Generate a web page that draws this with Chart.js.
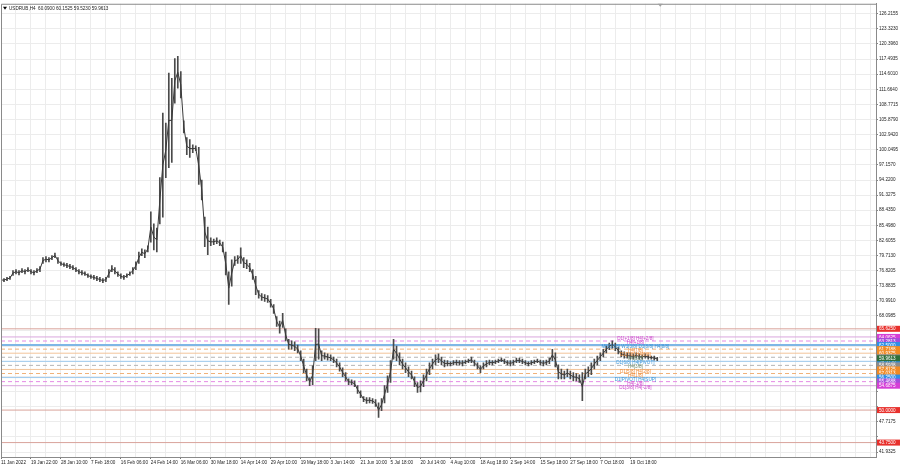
<!DOCTYPE html>
<html>
<head>
<meta charset="utf-8">
<script src="https://cdn.jsdelivr.net/npm/chart.js@4.4.0/dist/chart.umd.min.js"></script>
<style>
    html, body { margin: 0; padding: 0; background: #fff; overflow: hidden; }
    canvas { display: block; }
</style>
</head>
<body>
<canvas id="priceChart" width="900" height="468"></canvas>
<script>
// USDRUB H4 - each entry is one compressed bar (high / low)
const chartTitle = 'USDRUB,H4  60.0900 60.1525 59.5230 59.9613';

const timeLabels = ['11 Jan 2022', '19 Jan 22:00', '28 Jan 10:00', '7 Feb 18:00', '16 Feb 06:00', '24 Feb 14:00',
    '16 Mar 06:00', '30 Mar 18:00', '14 Apr 14:00', '29 Apr 10:00', '19 May 18:00', '3 Jun 14:00', '21 Jun 10:00',
    '5 Jul 18:00', '20 Jul 14:00', '4 Aug 10:00', '18 Aug 18:00', '2 Sep 14:00', '15 Sep 18:00', '27 Sep 18:00',
    '7 Oct 18:00', '19 Oct 18:00'];

const barHigh = [
    75.3, 75.3, 75.5, 75.7, 76.8, 77.0, 76.8, 77.2, 77.0, 77.4,
    77.0, 76.8, 77.2, 77.6, 79.3, 79.5, 79.3, 79.7, 80.2, 79.3,
    78.5, 78.3, 78.2, 78.0, 77.8, 77.4, 77.0, 76.8, 76.6, 76.2,
    76.0, 75.9, 75.7, 75.5, 75.3, 75.5, 77.0, 77.8, 77.4, 76.6,
    76.2, 75.9, 76.2, 76.6, 77.4, 78.5, 80.4, 81.0, 80.8, 81.6,
    88.1, 85.8, 85.0, 94.7, 107.1, 105.2, 114.8, 113.8, 117.6, 118.0,
    115.1, 105.6, 102.4, 102.0, 101.0, 100.8, 100.5, 94.2, 87.1, 85.2,
    83.1, 82.9, 83.1, 82.7, 82.3, 80.4, 76.6, 78.9, 79.5, 79.7,
    81.2, 79.3, 78.9, 78.2, 77.0, 75.7, 73.0, 72.4, 72.2, 72.0,
    71.3, 70.3, 68.0, 67.1, 68.6, 65.6, 63.6, 63.3, 63.1, 62.5,
    61.4, 59.8, 57.9, 56.2, 58.5, 65.7, 65.6, 61.4, 61.0, 60.8,
    60.6, 60.2, 59.8, 59.1, 58.1, 57.2, 56.0, 55.8, 55.6, 54.7,
    53.7, 52.6, 52.4, 52.4, 52.2, 52.0, 51.4, 52.2, 54.7, 56.6,
    59.5, 63.6, 62.3, 61.0, 59.8, 59.1, 58.3, 57.5, 56.4, 55.3,
    55.6, 56.8, 57.9, 59.1, 59.8, 60.6, 60.8, 60.2, 59.6, 59.5,
    59.3, 59.5, 59.6, 59.5, 59.5, 59.6, 59.8, 60.2, 59.6, 59.1,
    58.5, 59.1, 59.5, 59.6, 59.5, 59.6, 59.8, 60.0, 59.8, 59.5,
    59.5, 59.6, 60.0, 60.0, 59.8, 59.5, 59.3, 59.5, 59.6, 59.8,
    59.6, 59.5, 59.6, 60.0, 61.7, 61.0, 58.7, 57.9, 57.5, 57.9,
    57.5, 57.2, 57.0, 56.8, 57.2, 57.9, 58.3, 59.1, 59.8, 60.4,
    61.0, 61.7, 62.3, 62.9, 63.3, 62.9, 62.1, 61.4, 61.2, 61.0,
    61.0, 60.8, 61.0, 60.8, 60.6, 60.8, 60.6, 60.4, 60.4, 60.15
];

const barLow = [
    74.7, 74.7, 74.9, 75.1, 75.9, 76.2, 76.0, 76.4, 76.2, 76.6,
    76.2, 76.0, 76.4, 76.6, 78.2, 78.5, 78.5, 78.9, 79.3, 78.2,
    77.8, 77.6, 77.4, 77.2, 77.0, 76.6, 76.2, 76.0, 75.9, 75.5,
    75.3, 75.1, 74.9, 74.7, 74.5, 74.7, 75.5, 76.6, 76.2, 75.7,
    75.3, 75.1, 75.5, 75.9, 76.2, 77.0, 78.2, 79.7, 79.3, 80.4,
    82.3, 80.8, 80.4, 85.8, 87.1, 94.7, 96.6, 97.6, 109.0, 111.9,
    110.0, 103.3, 99.1, 98.6, 99.5, 99.9, 93.4, 90.4, 81.4, 79.9,
    81.6, 81.8, 82.0, 81.6, 80.4, 76.0, 70.3, 73.8, 77.8, 78.2,
    78.2, 77.4, 77.2, 76.6, 75.1, 72.2, 71.5, 71.1, 70.9, 70.7,
    69.8, 68.6, 66.1, 64.8, 65.9, 63.3, 61.7, 61.7, 61.4, 61.0,
    59.5, 57.2, 55.6, 54.7, 54.9, 59.5, 59.8, 59.5, 59.8, 59.6,
    59.5, 59.1, 58.3, 57.5, 56.4, 55.6, 54.9, 54.9, 54.5, 53.2,
    52.4, 51.6, 51.3, 51.4, 51.3, 50.7, 48.6, 49.9, 51.4, 53.4,
    55.3, 59.8, 59.5, 58.7, 57.9, 57.2, 56.4, 56.0, 54.5, 53.4,
    53.5, 54.5, 55.6, 56.8, 57.9, 58.7, 59.1, 58.7, 58.3, 58.5,
    58.5, 58.7, 58.7, 58.7, 58.5, 58.9, 59.1, 59.1, 58.5, 57.9,
    57.2, 57.9, 58.3, 58.7, 58.7, 58.9, 59.1, 59.3, 58.9, 58.7,
    58.5, 58.7, 59.1, 59.1, 58.9, 58.7, 58.5, 58.7, 58.9, 59.1,
    58.7, 58.5, 58.7, 58.9, 59.5, 58.3, 56.0, 56.0, 56.0, 56.4,
    56.0, 55.6, 55.6, 55.3, 51.8, 56.0, 56.4, 56.8, 57.9, 58.7,
    59.5, 60.2, 61.0, 61.6, 61.9, 61.4, 60.8, 60.2, 60.0, 60.0,
    59.8, 59.8, 60.0, 59.8, 59.8, 60.0, 59.8, 59.8, 59.6, 59.52
];

const priceTicks = [126.2155, 123.3230, 120.3960, 117.4935, 114.6010, 111.6640, 108.7715, 105.8790, 102.9420,
    100.0495, 97.1570, 94.2200, 91.3275, 88.4350, 85.4980, 82.6055, 79.7130, 76.8205, 73.8835, 70.9910,
    68.0985, 65.2060, 62.2690, 59.3765, 56.4840, 53.5470, 50.6545, 47.7175, 44.8250, 41.9325];

// Murrey math levels and the text written next to them
const octaveLevels = [65.625, 50.0, 43.75];
const mmLevels = [64.0625, 63.28125, 62.5, 61.71875, 60.9375, 60.15625, 59.375, 58.59375, 57.8125, 57.03125, 56.25, 55.46875, 54.6875];
const mmTexts = ['D1[+1/8] H4[+2/8]', 'H4[+1/8]', 'MN1[6/8] W1[3/8] D1[8/8] H4[8/8]', 'H4[7/8]', 'D1[7/8] H4[6/8]',
    'H4[5/8]', 'D1[6/8] H4[PIVOT]', 'H4[3/8]', 'D1[5/8] H4[2/8]', 'H4[1/8]', 'D1[PIVOT] H4[SUP]', 'H4[-1/8]', 'D1[3/8] H4[-2/8]'];
const lastClose = 59.9613;

// styles per murrey level (same order as mmLevels)
const mmStyle = [
    { line: '#d9a6dd', dash: [], tag: '#d63fd6', text: '#cc44cc' },
    { line: '#e58ae5', dash: [4, 3], tag: '#a64ddb', text: '#cc44cc' },
    { line: '#7fb7e6', dash: [], tag: '#2f8fe6', text: '#3a95d8', width: 2 },
    { line: '#f0b27a', dash: [4, 3], tag: '#f08a24', text: '#ee8833' },
    { line: '#f2c49a', dash: [], tag: '#f08a24', text: '#ee8833' },
    { line: '#b5b5b5', dash: [4, 3], tag: '#8c8c8c', text: '#6f8f6f' },
    { line: '#9cc9ee', dash: [], tag: '#2f8fe6', text: '#3a95d8' },
    { line: '#b5b5b5', dash: [4, 3], tag: '#8c8c8c', text: '#6f8f6f' },
    { line: '#f2c49a', dash: [], tag: '#f08a24', text: '#ee8833' },
    { line: '#f0b27a', dash: [4, 3], tag: '#f08a24', text: '#ee8833' },
    { line: '#9cc9ee', dash: [], tag: '#2f8fe6', text: '#3a95d8' },
    { line: '#e58ae5', dash: [4, 3], tag: '#a64ddb', text: '#cc44cc' },
    { line: '#d9a6dd', dash: [], tag: '#d63fd6', text: '#cc44cc' }
];

const FONT = 'Liberation Sans, Arial, sans-serif';
const X_MAX = 292;
const TEXT_ANCHOR = 211.7;

function levelLine(value, color, width, dash) {
    return {
        type: 'line',
        data: [{ x: 0, y: value }, { x: X_MAX, y: value }],
        borderColor: color,
        borderWidth: width || 1,
        borderDash: dash || [],
        pointRadius: 0,
        fill: false,
        order: 5
    };
}

function buildDatasets() {
    const sets = [];
    octaveLevels.forEach(v => sets.push(levelLine(v, '#d9a39b', 1)));
    mmLevels.forEach((v, i) => sets.push(levelLine(v, mmStyle[i].line, mmStyle[i].width, mmStyle[i].dash)));
    // high-low ticks
    sets.push({
        type: 'bar',
        data: barHigh.map((h, i) => ({ x: i, y: [barLow[i], h] })),
        backgroundColor: '#4a4a4a',
        borderWidth: 0,
        barThickness: 1,
        order: 2
    });
    // thin line through the middle of each bar so the series reads as one path
    sets.push({
        type: 'line',
        data: barHigh.map((h, i) => ({ x: i, y: (h + barLow[i]) / 2 })),
        borderColor: '#3a3a3a',
        borderWidth: 1,
        pointRadius: 0,
        tension: 0,
        fill: false,
        order: 1
    });
    return sets;
}

// title, level texts and coloured price tags
const overlayPlugin = {
    id: 'overlay',
    afterDatasetsDraw(chart) {
        const ctx = chart.ctx;
        const xs = chart.scales.x, ys = chart.scales.y;
        ctx.save();
        ctx.font = '4.6px ' + FONT;
        ctx.textAlign = 'center';
        ctx.textBaseline = 'top';
        mmLevels.forEach((v, i) => {
            ctx.fillStyle = mmStyle[i].text;
            ctx.fillText(mmTexts[i], xs.getPixelForValue(TEXT_ANCHOR), ys.getPixelForValue(v) - 0.5);
        });
        ctx.restore();
    },
    afterDraw(chart) {
        const ctx = chart.ctx;
        const area = chart.chartArea;
        const ys = chart.scales.y;
        ctx.save();
        // frame
        ctx.strokeStyle = '#8a8a8a';
        ctx.lineWidth = 1;
        ctx.beginPath();
        ctx.moveTo(area.left + 0.5, area.bottom);
        ctx.lineTo(area.left + 0.5, area.top + 0.5);
        ctx.lineTo(area.right, area.top + 0.5);
        ctx.stroke();

        // title
        ctx.fillStyle = '#000';
        ctx.beginPath();
        ctx.moveTo(area.left + 2, area.top + 3);
        ctx.lineTo(area.left + 6, area.top + 3);
        ctx.lineTo(area.left + 4, area.top + 6);
        ctx.fill();
        ctx.font = '4.6px ' + FONT;
        ctx.textAlign = 'left';
        ctx.textBaseline = 'middle';
        ctx.fillStyle = '#222';
        ctx.fillText(chartTitle, area.left + 8, area.top + 5);

        // chart shift marker
        ctx.fillStyle = '#a0a0a0';
        const sx = chart.scales.x.getPixelForValue(barHigh.length);
        ctx.beginPath();
        ctx.moveTo(sx - 2.5, area.top);
        ctx.lineTo(sx + 2.5, area.top);
        ctx.lineTo(sx, area.top + 3);
        ctx.fill();

        // price tags on the right axis
        const tag = (v, color) => {
            const y = ys.getPixelForValue(v);
            ctx.fillStyle = color;
            ctx.fillRect(area.right + 1, y - 3, 23, 6);
            ctx.fillStyle = '#fff';
            ctx.fillText(v.toFixed(4), area.right + 3, y + 0.3);
        };
        octaveLevels.forEach(v => tag(v, '#e8302c'));
        mmLevels.forEach((v, i) => tag(v, mmStyle[i].tag));
        tag(lastClose, '#2f6f3a');
        ctx.restore();
    }
};

function initPriceChart() {
    const ctx = document.getElementById('priceChart');
    if (!ctx) return;

    new Chart(ctx, {
        data: { datasets: buildDatasets() },
        plugins: [overlayPlugin],
        options: {
            responsive: false,
            animation: false,
            devicePixelRatio: 1,
            layout: { padding: 0 },
            plugins: {
                legend: { display: false },
                tooltip: { enabled: false }
            },
            scales: {
                x: {
                    type: 'linear',
                    min: 0,
                    max: X_MAX,
                    offset: false,
                    afterBuildTicks: scale => {
                        const t = [];
                        for (let v = 0; v <= 290; v += 5) t.push({ value: v });
                        scale.ticks = t;
                    },
                    afterFit: scale => { scale.height = 11; },
                    grid: {
                        offset: false,
                        color: '#ececec',
                        tickLength: 2,
                        tickColor: c => (c.tick && c.tick.value % 10 === 0 && c.tick.value / 10 < timeLabels.length) ? '#777' : 'rgba(0,0,0,0)'
                    },
                    border: { color: '#8a8a8a' },
                    ticks: {
                        autoSkip: false,
                        maxRotation: 0,
                        minRotation: 0,
                        align: 'start',
                        padding: 1,
                        color: '#222',
                        font: { family: FONT, size: 4.6 },
                        callback: v => (v % 10 === 0 ? (timeLabels[v / 10] || '') : '')
                    }
                },
                y: {
                    position: 'right',
                    min: 40.979,
                    max: 128.122,
                    afterBuildTicks: scale => {
                        scale.ticks = priceTicks.map(v => ({ value: v }));
                    },
                    afterFit: scale => { scale.width = 24; },
                    grid: { color: '#ececec', tickLength: 2, tickColor: '#888' },
                    border: { color: '#8a8a8a' },
                    ticks: {
                        padding: 1,
                        color: '#222',
                        font: { family: FONT, size: 4.6 },
                        callback: v => {
                            const hidden = octaveLevels.concat(mmLevels).some(l => Math.abs(l - v) < 1.2);
                            return hidden ? '' : v.toFixed(4);
                        }
                    }
                }
            }
        }
    });
}

initPriceChart();
</script>
</body>
</html>
